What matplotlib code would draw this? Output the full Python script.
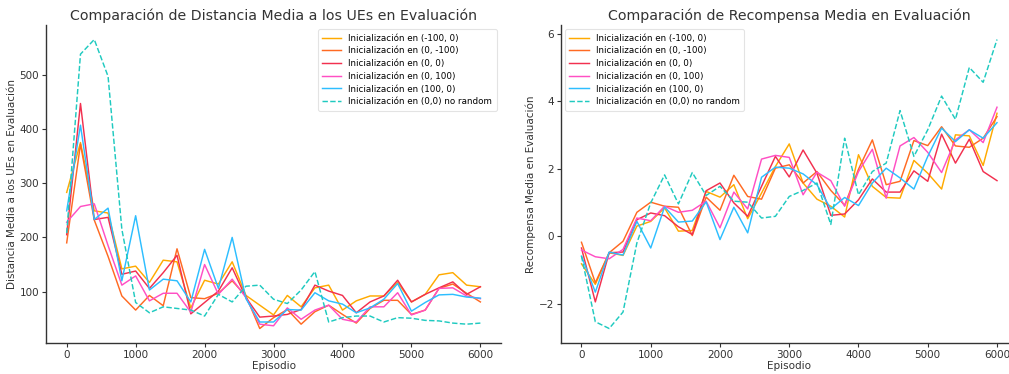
import numpy as np
import matplotlib
matplotlib.use("Agg")
import matplotlib.pyplot as plt

episodes = np.arange(0, 6001, 200)

labels = [
    "Inicialización en (-100, 0)",
    "Inicialización en (0, -100)",
    "Inicialización en (0, 0)",
    "Inicialización en (0, 100)",
    "Inicialización en (100, 0)",
    "Inicialización en (0,0) no random",
]
colors = ["#FFAA00", "#FF6A22", "#F2304F", "#FF4FC4", "#2DBEFF", "#1FCAC0"]
styles = ["-", "-", "-", "-", "-", "--"]

# Mean distance to UEs during evaluation
dist_m100_0 = [283, 375, 249, 245, 142, 147, 117, 158, 155, 70, 121, 114, 155, 93, 75, 57,
               93, 72, 107, 112, 66, 83, 92, 92, 117, 81, 95, 131, 135, 112, 109]
dist_0_m100 = [190, 372, 232, 165, 92, 66, 93, 74, 179, 89, 87, 97, 120, 92, 32, 52,
               67, 40, 63, 75, 58, 42, 69, 84, 84, 58, 66, 106, 114, 97, 81]
dist_0_0 = [205, 447, 233, 237, 132, 138, 106, 135, 167, 59, 80, 101, 144, 89, 53, 55,
            58, 67, 112, 101, 93, 61, 81, 92, 121, 81, 95, 107, 118, 95, 109]
dist_0_100 = [228, 257, 262, 185, 112, 129, 83, 97, 97, 62, 150, 95, 123, 89, 40, 37,
              70, 49, 66, 75, 49, 44, 72, 72, 98, 57, 66, 106, 107, 92, 87]
dist_100_0 = [249, 407, 233, 254, 120, 240, 103, 123, 120, 81, 178, 106, 200, 87, 44, 44,
              67, 66, 98, 83, 77, 61, 70, 86, 115, 64, 80, 94, 95, 90, 88]
dist_norandom = [208, 538, 565, 497, 215, 80, 61, 72, 69, 66, 55, 95, 81, 110, 112, 86,
                 78, 103, 137, 44, 52, 55, 55, 44, 52, 51, 47, 46, 42, 40, 42]

# Mean reward during evaluation
rew_m100_0 = [-0.82, -1.43, -0.49, -0.57, 0.30, 0.44, 0.84, 0.15, 0.17, 1.33, 1.16, 1.53,
              0.52, 1.28, 2.07, 2.74, 1.58, 1.10, 0.89, 0.57, 2.42, 1.48, 1.15, 1.13,
              2.25, 1.87, 1.40, 3.01, 2.98, 2.10, 3.65]
rew_0_m100 = [-0.18, -1.38, -0.49, -0.15, 0.71, 1.01, 0.89, 0.86, 0.02, 1.16, 0.77, 1.81,
              1.18, 1.10, 2.02, 2.12, 1.58, 1.92, 1.36, 0.92, 1.99, 2.86, 1.53, 1.63,
              2.84, 2.69, 3.25, 2.68, 2.64, 2.91, 3.55]
rew_0_0 = [-0.35, -1.95, -0.49, -0.47, 0.49, 0.69, 0.61, 0.28, 0.05, 1.35, 1.58, 0.99,
           0.59, 1.48, 2.37, 1.76, 2.56, 1.87, 0.62, 0.66, 1.08, 1.70, 1.31, 1.31,
           1.94, 1.63, 3.03, 2.17, 2.88, 1.92, 1.65]
rew_0_100 = [-0.41, -0.61, -0.67, -0.39, 0.54, 0.46, 0.89, 0.71, 0.77, 1.04, 0.25, 1.31,
             0.81, 2.29, 2.40, 2.34, 1.23, 1.90, 1.65, 0.89, 1.92, 2.58, 1.13, 2.68,
             2.93, 2.49, 1.89, 2.86, 3.16, 2.78, 3.83]
rew_100_0 = [-0.59, -1.66, -0.47, -0.56, 0.44, -0.35, 0.87, 0.42, 0.45, 1.02, -0.10, 0.86,
             0.10, 1.75, 2.05, 2.02, 1.85, 1.53, 0.81, 1.15, 0.91, 1.58, 2.02, 1.73,
             1.40, 2.37, 3.21, 2.81, 3.16, 2.91, 3.37]
rew_norandom = [-0.59, -2.54, -2.74, -2.25, -0.20, 0.99, 1.82, 0.96, 1.89, 1.21, 1.48, 1.04,
                1.01, 0.54, 0.59, 1.18, 1.36, 1.58, 0.35, 2.91, 1.23, 1.92, 2.17, 3.73,
                2.37, 3.16, 4.16, 3.47, 5.01, 4.57, 5.84]

dist_series = [dist_m100_0, dist_0_m100, dist_0_0, dist_0_100, dist_100_0, dist_norandom]
rew_series = [rew_m100_0, rew_0_m100, rew_0_0, rew_0_100, rew_100_0, rew_norandom]

plt.rcParams["font.family"] = ["DejaVu Sans"]
fig = plt.figure(figsize=(10.09, 3.74), dpi=100)
ax1 = fig.add_axes([0.0456, 0.083, 0.451, 0.850])
ax2 = fig.add_axes([0.5557, 0.083, 0.453, 0.850])


def style_axes(ax):
    for side in ("top", "right"):
        ax.spines[side].set_visible(False)
    for side in ("left", "bottom"):
        ax.spines[side].set_color("#333333")
        ax.spines[side].set_linewidth(1.0)
    ax.tick_params(axis="both", labelsize=7.5, colors="#333333", direction="out",
                   length=3, width=0.8, pad=2)


for ax, series, title, ylabel, loc in [
    (ax1, dist_series, "Comparación de Distancia Media a los UEs en Evaluación",
     "Distancia Media a los UEs en Evaluación", "upper right"),
    (ax2, rew_series, "Comparación de Recompensa Media en Evaluación",
     "Recompensa Media en Evaluación", "upper left"),
]:
    for vals, lab, col, ls in zip(series, labels, colors, styles):
        ax.plot(episodes, vals, color=col, linestyle=ls, linewidth=1.05, label=lab)
    ax.set_title(title, fontsize=10.2, color="#333333", pad=4)
    ax.set_xlabel("Episodio", fontsize=7.5, color="#333333", labelpad=1)
    ax.set_ylabel(ylabel, fontsize=7.5, color="#333333", labelpad=2)
    ax.set_xticks(range(0, 6001, 1000))
    style_axes(ax)
    leg = ax.legend(loc=loc, fontsize=6.3, frameon=True, handlelength=2.2,
                    borderpad=0.5, labelspacing=0.42)
    leg.get_frame().set_edgecolor("#dddddd")
    leg.get_frame().set_linewidth(0.8)

ax1.set_yticks([100, 200, 300, 400, 500])
ax2.set_yticks([-2, 0, 2, 4, 6])

fig.savefig("out.png", dpi=100)
